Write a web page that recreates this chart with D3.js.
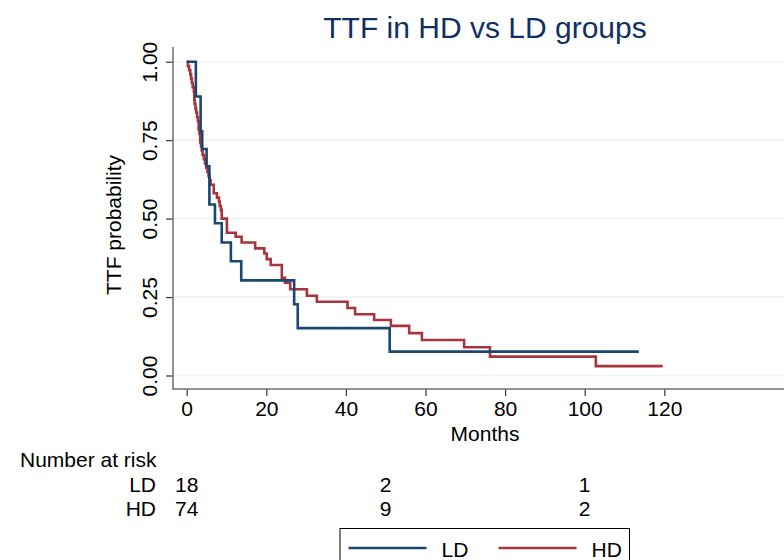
<!DOCTYPE html>
<html>
<head>
    <meta http-equiv="Content-Type" content="text/html;charset=utf8" />
    <title>TTF in HD vs LD groups</title>
    <script src="https://d3js.org/d3.v7.min.js"></script>
    <style>
        body { margin: 0; background: #fff; }
        svg text { font-family: "Liberation Sans", Arial, Helvetica, sans-serif; }
    </style>
</head>
<body>
<div id="chart"></div>
<script>
// KM step curves: time (months) of each drop and survival after it
var ldTime = [0, 2.3, 3.5, 3.9, 5.0, 5.7, 7.1, 8.8, 11.1, 13.7, 27.0, 27.9, 51.0, 113.6];
var ldSurv = [1, 0.889, 0.778, 0.722, 0.667, 0.545, 0.485, 0.424, 0.364, 0.303, 0.227, 0.151, 0.076, 0.076];

var hdTime = [0, 0.3, 0.6, 0.9, 1.1, 1.3, 1.5, 1.8, 1.9, 2.0, 2.2, 2.4, 2.6, 2.8, 3.0, 3.2, 3.4, 3.6,
              3.8, 4.0, 4.3, 4.6, 4.9, 5.2, 5.5, 5.8, 6.0, 6.8, 7.6, 8.1, 8.3, 8.6, 8.8, 10.1,
              12.3, 13.8, 17.2, 19.5, 20.1, 21.1, 23.9, 24.7, 26.0, 30.2, 32.7, 40.4, 42.3,
              47.1, 51.3, 55.9, 59.1, 69.7, 76.2, 102.8, 119.6];
var hdSurv = [1, 0.986, 0.973, 0.959, 0.946, 0.932, 0.919, 0.905, 0.878, 0.865, 0.851, 0.838, 0.824, 0.811, 0.784, 0.770, 0.743, 0.730,
              0.716, 0.703, 0.689, 0.676, 0.662, 0.649, 0.635, 0.622, 0.608, 0.581, 0.567, 0.554, 0.540, 0.527, 0.500, 0.455,
              0.442, 0.424, 0.405, 0.389, 0.371, 0.352, 0.311, 0.296, 0.275, 0.254, 0.235, 0.215, 0.195,
              0.177, 0.158, 0.135, 0.113, 0.090, 0.060, 0.030, 0.030];

var xTicks = [0, 20, 40, 60, 80, 100, 120];
var yTicks = [0, 0.25, 0.5, 0.75, 1];

var riskTimes = [0, 50, 100];
var riskGroups = ["LD", "HD"];
var riskLD = [18, 2, 1];
var riskHD = [74, 9, 2];

var colLD = "#1a476f", colHD = "#a8353d";
var fs = 21;

var svg = d3.select("#chart").append("svg").attr("width", 784).attr("height", 560);

var x = d3.scaleLinear().domain([0, 120]).range([186.7, 664.3]);
var y = d3.scaleLinear().domain([0, 1]).range([375.5, 61.7]);

// grid
svg.selectAll("line.grid").data(yTicks).enter().append("line")
    .attr("x1", 173).attr("x2", 784)
    .attr("y1", function(d) { return y(d); }).attr("y2", function(d) { return y(d); })
    .attr("stroke", "#eaf2f3").attr("stroke-width", 1.5);

// axes
var gx = svg.append("g").attr("transform", "translate(0,389)")
    .call(d3.axisBottom(x).tickValues(xTicks).tickSize(7).tickPadding(5).tickFormat(d3.format("d")));
var gy = svg.append("g").attr("transform", "translate(173,0)")
    .call(d3.axisLeft(y).tickValues(yTicks).tickSize(7).tickFormat(d3.format(".2f")));
gx.select(".domain").remove();
gy.select(".domain").remove();
svg.append("line").attr("x1", 173).attr("x2", 784).attr("y1", 389).attr("y2", 389)
    .attr("stroke", "#6e6e6e").attr("stroke-width", 1.5);
svg.append("line").attr("x1", 173).attr("x2", 173).attr("y1", 47).attr("y2", 389.7)
    .attr("stroke", "#6e6e6e").attr("stroke-width", 1.5);
svg.selectAll(".tick line").attr("stroke", "#333").attr("stroke-width", 1.2);
gx.selectAll(".tick text").attr("font-size", fs).attr("fill", "#000")
    .attr("font-family", "Liberation Sans, Arial, sans-serif");
gy.selectAll(".tick text")
    .attr("font-size", fs).attr("fill", "#000")
    .attr("font-family", "Liberation Sans, Arial, sans-serif")
    .attr("text-anchor", "middle").attr("dy", 0).attr("x", 0)
    .attr("transform", "translate(-16,0) rotate(-90)");

// curves
var line = d3.line().curve(d3.curveStepAfter)
    .x(function(d) { return x(d[0]); }).y(function(d) { return y(d[1]); });
svg.append("path").datum(d3.zip(hdTime, hdSurv)).attr("d", line)
    .attr("fill", "none").attr("stroke", colHD).attr("stroke-width", 2.6);
svg.append("path").datum(d3.zip(ldTime, ldSurv)).attr("d", line)
    .attr("fill", "none").attr("stroke", colLD).attr("stroke-width", 2.6);

// titles
svg.append("text").attr("x", 485).attr("y", 37.5).attr("text-anchor", "middle")
    .attr("font-size", 30).attr("fill", "#12305f").text("TTF in HD vs LD groups");
svg.append("text").attr("x", 485).attr("y", 441).attr("text-anchor", "middle")
    .attr("font-size", fs).text("Months");
svg.append("text").attr("transform", "translate(121,225) rotate(-90)").attr("text-anchor", "middle")
    .attr("font-size", fs).text("TTF probability");

// number at risk
svg.append("text").attr("x", 20).attr("y", 467).attr("font-size", fs).text("Number at risk");
var riskRows = [riskLD, riskHD];
riskGroups.forEach(function(g, i) {
    var yy = 492 + i * 24;
    svg.append("text").attr("x", 156).attr("y", yy).attr("text-anchor", "end")
        .attr("font-size", fs).text(g);
    svg.selectAll("text.r" + i).data(riskRows[i]).enter().append("text")
        .attr("class", "r" + i)
        .attr("x", function(d, j) { return x(riskTimes[j]); }).attr("y", yy)
        .attr("text-anchor", "middle").attr("font-size", fs).text(function(d) { return d; });
});

// legend
var lg = svg.append("g");
lg.append("rect").attr("x", 340).attr("y", 528.5).attr("width", 289.5).attr("height", 40)
    .attr("fill", "#fff").attr("stroke", "#000").attr("stroke-width", 1);
[["LD", colLD, 348.5], ["HD", colHD, 498.5]].forEach(function(d) {
    lg.append("line").attr("x1", d[2]).attr("x2", d[2] + 78).attr("y1", 548).attr("y2", 548)
        .attr("stroke", d[1]).attr("stroke-width", 2.6);
    lg.append("text").attr("x", d[2] + 93).attr("y", 556.5).attr("font-size", fs).text(d[0]);
});
</script>
</body>
</html>
